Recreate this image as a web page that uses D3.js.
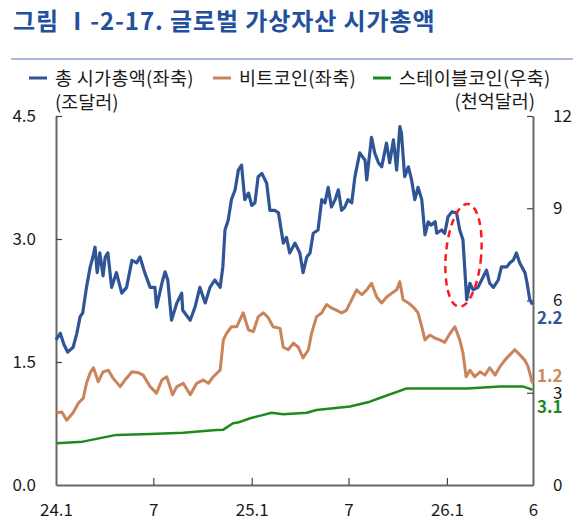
<!DOCTYPE html>
<html>
<head>
<meta charset="utf-8">
<script src="https://cdn.jsdelivr.net/npm/d3@7"></script>
<style>
  body { margin: 0; background: #fff; }
  svg { display: block; font-family: "Noto Sans CJK KR", "Noto Sans", sans-serif; }
</style>
</head>
<body>
<svg width="586" height="532"></svg>
<script>
// 총 시가총액 (조달러, 좌축)
var totalCap = [
  ["2024-01-01",1.77],["2024-01-09",1.85],["2024-01-16",1.71],["2024-01-23",1.62],["2024-02-02",1.68],
  ["2024-02-09",1.85],["2024-02-15",2.05],["2024-02-20",2.10],["2024-02-27",2.41],["2024-03-05",2.66],
  ["2024-03-10",2.78],["2024-03-14",2.90],["2024-03-18",2.59],["2024-03-23",2.83],["2024-03-29",2.55],
  ["2024-04-02",2.78],["2024-04-07",2.83],["2024-04-14",2.41],["2024-04-23",2.59],["2024-05-03",2.34],
  ["2024-05-12",2.41],["2024-05-22",2.74],["2024-05-31",2.71],["2024-06-06",2.78],["2024-06-15",2.59],
  ["2024-06-25",2.41],["2024-07-04",2.41],["2024-07-07",2.17],["2024-07-17",2.46],["2024-07-23",2.60],
  ["2024-07-28",2.50],["2024-08-04",2.01],["2024-08-14",2.22],["2024-08-23",2.34],["2024-08-25",2.13],
  ["2024-09-08",2.01],["2024-09-17",2.17],["2024-09-26",2.41],["2024-10-06",2.22],["2024-10-15",2.41],
  ["2024-10-24",2.50],["2024-11-03",2.41],["2024-11-08",2.66],["2024-11-12",3.11],["2024-11-18",3.23],
  ["2024-11-24",3.48],["2024-12-01",3.60],["2024-12-07",3.84],["2024-12-13",3.90],["2024-12-19",3.48],
  ["2024-12-26",3.56],["2025-01-01",3.41],["2025-01-07",3.44],["2025-01-13",3.76],["2025-01-20",3.80],
  ["2025-01-29",3.68],["2025-02-04",3.35],["2025-02-13",3.35],["2025-02-20",3.32],["2025-03-01",2.95],
  ["2025-03-07",3.02],["2025-03-13",2.83],["2025-03-23",2.95],["2025-04-01",2.83],["2025-04-07",2.59],
  ["2025-04-14",2.78],["2025-04-20",2.83],["2025-04-26",3.07],["2025-05-05",3.11],["2025-05-12",3.48],
  ["2025-05-18",3.44],["2025-05-24",3.63],["2025-05-30",3.39],["2025-06-06",3.48],["2025-06-12",3.60],
  ["2025-06-18",3.35],["2025-06-24",3.39],["2025-06-30",3.48],["2025-07-07",3.44],["2025-07-13",3.76],
  ["2025-07-22",4.05],["2025-08-01",3.96],["2025-08-04",3.72],["2025-08-13",4.24],["2025-08-19",4.05],
  ["2025-08-26",3.93],["2025-09-01",3.88],["2025-09-10",4.17],["2025-09-16",3.93],["2025-09-23",4.21],
  ["2025-09-29",3.84],["2025-10-05",4.37],["2025-10-08",4.29],["2025-10-14",3.76],["2025-10-21",3.88],
  ["2025-10-27",3.72],["2025-11-02",3.48],["2025-11-08",3.63],["2025-11-15",3.48],["2025-11-21",3.05],
  ["2025-11-27",3.21],["2025-12-03",3.17],["2025-12-10",3.21],["2025-12-13",3.07],["2025-12-22",3.11],
  ["2025-12-28",3.07],["2026-01-03",3.27],["2026-01-10",3.33],["2026-01-19",3.32],["2026-01-25",3.11],
  ["2026-01-31",2.99],["2026-02-07",2.26],["2026-02-13",2.46],["2026-02-19",2.38],["2026-02-28",2.41],
  ["2026-03-07",2.50],["2026-03-16",2.62],["2026-03-22",2.46],["2026-03-29",2.41],["2026-04-07",2.50],
  ["2026-04-13",2.66],["2026-04-23",2.66],["2026-04-29",2.71],["2026-05-05",2.74],["2026-05-11",2.83],
  ["2026-05-17",2.71],["2026-05-27",2.59],["2026-05-31",2.46],["2026-06-05",2.26],["2026-06-10",2.20]
];

// 비트코인 (조달러, 좌축)
var bitcoin = [
  ["2024-01-02",0.88],["2024-01-12",0.89],["2024-01-21",0.79],["2024-02-02",0.88],["2024-02-12",1.00],
  ["2024-02-21",1.06],["2024-02-27",1.24],["2024-03-05",1.37],["2024-03-11",1.43],["2024-03-20",1.26],
  ["2024-03-29",1.38],["2024-04-08",1.40],["2024-04-17",1.30],["2024-04-30",1.20],["2024-05-09",1.28],
  ["2024-05-22",1.38],["2024-06-03",1.37],["2024-06-12",1.34],["2024-06-25",1.20],["2024-07-07",1.12],
  ["2024-07-17",1.28],["2024-07-26",1.32],["2024-08-06",1.10],["2024-08-14",1.20],["2024-08-26",1.24],
  ["2024-09-08",1.10],["2024-09-20",1.24],["2024-10-02",1.28],["2024-10-12",1.24],["2024-10-21",1.32],
  ["2024-11-03",1.40],["2024-11-09",1.77],["2024-11-15",1.85],["2024-11-24",1.93],["2024-12-04",1.93],
  ["2024-12-16",2.10],["2024-12-26",1.89],["2025-01-04",1.87],["2025-01-13",2.05],["2025-01-23",2.10],
  ["2025-02-01",2.04],["2025-02-10",1.93],["2025-02-23",1.91],["2025-03-01",1.68],["2025-03-10",1.65],
  ["2025-03-20",1.73],["2025-03-29",1.68],["2025-04-07",1.55],["2025-04-17",1.65],["2025-04-23",1.85],
  ["2025-05-02",2.05],["2025-05-12",2.10],["2025-05-21",2.20],["2025-05-30",2.16],["2025-06-09",2.13],
  ["2025-06-18",2.10],["2025-06-27",2.13],["2025-07-07",2.26],["2025-07-16",2.38],["2025-07-26",2.32],
  ["2025-08-04",2.38],["2025-08-13",2.46],["2025-08-23",2.29],["2025-09-01",2.22],["2025-09-10",2.29],
  ["2025-09-20",2.34],["2025-09-29",2.38],["2025-10-05",2.48],["2025-10-11",2.26],["2025-10-21",2.22],
  ["2025-10-30",2.17],["2025-11-08",2.10],["2025-11-15",1.93],["2025-11-21",1.77],["2025-11-30",1.83],
  ["2025-12-10",1.79],["2025-12-19",1.77],["2025-12-28",1.74],["2026-01-07",1.85],["2026-01-16",1.93],
  ["2026-01-25",1.77],["2026-01-31",1.61],["2026-02-06",1.32],["2026-02-13",1.40],["2026-02-22",1.32],
  ["2026-03-04",1.38],["2026-03-13",1.34],["2026-03-22",1.43],["2026-04-01",1.34],["2026-04-10",1.44],
  ["2026-04-19",1.52],["2026-04-29",1.59],["2026-05-08",1.65],["2026-05-17",1.59],["2026-05-27",1.52],
  ["2026-06-02",1.44],["2026-06-10",1.24]
];

// 스테이블코인 (천억달러, 우축)
var stablecoin = [
  ["2024-01-02",1.36],["2024-02-20",1.41],["2024-04-23",1.63],["2024-06-25",1.66],["2024-08-26",1.70],
  ["2024-10-27",1.79],["2024-11-09",1.80],["2024-11-27",2.01],["2024-12-06",2.03],["2024-12-29",2.17],
  ["2025-01-23",2.28],["2025-02-07",2.35],["2025-03-01",2.30],["2025-04-14",2.35],["2025-05-02",2.44],
  ["2025-07-04",2.55],["2025-08-10",2.71],["2025-09-04",2.87],["2025-10-18",3.14],["2025-12-06",3.14],
  ["2026-02-07",3.14],["2026-04-10",3.20],["2026-05-24",3.20],["2026-06-10",3.10]
];

var xTickDates = ["2024-01-01","2024-07-01","2025-01-01","2025-07-01","2026-01-01","2026-06-11"];
var xTickLabels = ["24.1","7","25.1","7","26.1","6"];
var leftTicks = [0, 1.5, 3.0, 4.5];
var rightTicks = [0, 3, 6, 9, 12];
var legendNames = ["총 시가총액(좌축)", "비트코인(좌축)", "스테이블코인(우축)"];

var parse = d3.timeParse("%Y-%m-%d");
var svg = d3.select("svg");

var margin = {left: 56, right: 533, top: 116, bottom: 485};
var colors = {total: "#2f5597", btc: "#c9845a", stable: "#1e8a1e"};

var x = d3.scaleTime()
    .domain([parse("2024-01-01"), parse("2026-06-11")])
    .range([margin.left, margin.right]);
var yL = d3.scaleLinear().domain([0, 4.5]).range([margin.bottom, margin.top]);
var yR = d3.scaleLinear().domain([0, 12]).range([margin.bottom, margin.top]);

// title
svg.append("text")
    .attr("x", 13).attr("y", 30)
    .attr("font-size", 24).attr("font-weight", 700)
    .attr("letter-spacing", 0.9)
    .attr("fill", "#22509c")
    .text("그림  Ⅰ-2-17. 글로벌 가상자산 시가총액");

svg.append("line")
    .attr("x1", 11).attr("x2", 573).attr("y1", 59).attr("y2", 59)
    .attr("stroke", "#8ea2cf").attr("stroke-width", 1.5);

// legend
var legendX = [29, 213, 373];
var legendCol = [colors.total, colors.btc, colors.stable];
var lg = svg.append("g").selectAll("g").data(legendNames).enter().append("g")
    .attr("transform", function(d, i) { return "translate(" + legendX[i] + ",78)"; });
lg.append("line").attr("x1", 0).attr("x2", 18)
    .attr("stroke", function(d, i) { return legendCol[i]; }).attr("stroke-width", 3);
lg.append("text").attr("x", 26).attr("y", 7)
    .attr("font-size", 18.5).attr("letter-spacing", 0.3).attr("fill", "#1a1a1a")
    .text(function(d) { return d; });

// unit labels
svg.append("text").attr("x", 55).attr("y", 109)
    .attr("font-size", 18.5).attr("fill", "#1a1a1a").text("(조달러)");
svg.append("text").attr("x", 535).attr("y", 108).attr("text-anchor", "end")
    .attr("font-size", 18.5).attr("fill", "#1a1a1a").text("(천억달러)");

// axes
var axisL = svg.append("g").attr("transform", "translate(" + margin.left + ",0)")
    .call(d3.axisLeft(yL).tickValues(leftTicks).tickFormat(d3.format(".1f"))
        .tickSizeInner(-6).tickSizeOuter(0).tickPadding(20));
var axisR = svg.append("g").attr("transform", "translate(" + margin.right + ",0)")
    .call(d3.axisRight(yR).tickValues(rightTicks).tickFormat(d3.format("d"))
        .tickSizeInner(-6).tickSizeOuter(0).tickPadding(20));
var axisB = svg.append("g").attr("transform", "translate(0," + margin.bottom + ")")
    .call(d3.axisBottom(x).tickValues(xTickDates.map(parse))
        .tickFormat(function(d, i) { return xTickLabels[i]; })
        .tickSizeInner(-7).tickSizeOuter(0).tickPadding(19));

[axisL, axisR, axisB].forEach(function(a) {
    a.select(".domain").attr("stroke", "#666").attr("stroke-width", 2);
    a.selectAll(".tick line").attr("stroke", "#444").attr("stroke-width", 1.2);
    a.selectAll(".tick text").attr("font-size", 17).attr("fill", "#1a1a1a")
        .attr("font-family", "'Noto Sans CJK KR', sans-serif");
});
// hide tick marks at the very ends (they sit on the frame)
axisB.selectAll(".tick line").filter(function(d, i) { return i === 0 || i === xTickDates.length - 1; }).remove();
axisL.selectAll(".tick line").filter(function(d) { return d === 0; }).remove();
axisR.selectAll(".tick line").filter(function(d) { return d === 0; }).remove();

// series
function drawLine(data, y, color, w) {
    var line = d3.line()
        .x(function(d) { return x(parse(d[0])); })
        .y(function(d) { return y(d[1]); });
    svg.append("path").datum(data)
        .attr("fill", "none").attr("stroke", color)
        .attr("stroke-width", w).attr("stroke-linejoin", "round")
        .attr("d", line);
}
drawLine(stablecoin, yR, colors.stable, 2.5);
drawLine(bitcoin, yL, colors.btc, 3);
drawLine(totalCap, yL, colors.total, 3.2);

// end value labels
var endLabels = [
    {data: totalCap, y: yL, color: colors.total, dy: 13},
    {data: bitcoin, y: yL, color: "#cc8a5e", dy: -7},
    {data: stablecoin, y: yR, color: "#1e8a1e", dy: 17}
];
endLabels.forEach(function(e) {
    var last = e.data[e.data.length - 1];
    svg.append("text")
        .attr("x", margin.right + 4)
        .attr("y", e.y(last[1]) + e.dy)
        .attr("dy", "0.35em")
        .attr("font-size", 17).attr("font-weight", 700)
        .attr("fill", e.color)
        .text(d3.format(".1f")(last[1]));
});

// red dashed ellipse around the early-2026 drop
var dropStart = parse("2025-12-30"), dropEnd = parse("2026-03-06");
var cx = (x(dropStart) + x(dropEnd)) / 2, cy = (yL(2.17) + yL(3.43)) / 2;
svg.append("ellipse")
    .attr("cx", cx).attr("cy", cy)
    .attr("rx", (x(dropEnd) - x(dropStart)) / 2)
    .attr("ry", (yL(2.17) - yL(3.43)) / 2)
    .attr("transform", "rotate(5," + cx + "," + cy + ")")
    .attr("fill", "none").attr("stroke", "#ff1a1a")
    .attr("stroke-width", 2.5).attr("stroke-dasharray", "7,5");
</script>
</body>
</html>
